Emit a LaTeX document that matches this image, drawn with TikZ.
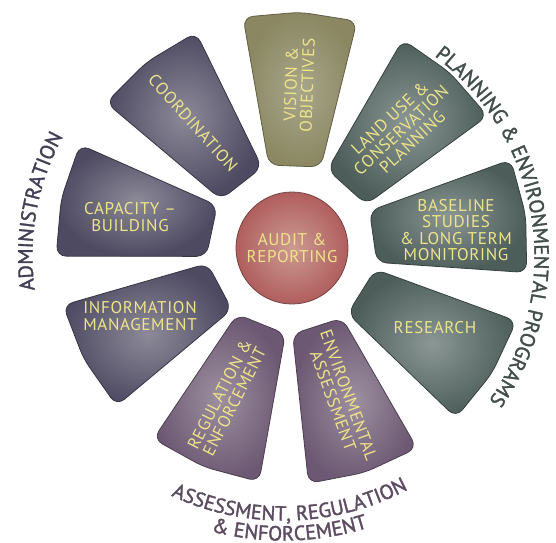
\documentclass[tikz,border=0pt]{standalone}
\usepackage{fontspec}
\setmainfont{PT Sans}
\newfontfamily\petalfont[LetterSpace=4]{PT Sans}
\newfontfamily\ringfont[FakeBold=1.6]{PT Sans}
\newcommand{\ringsize}{\ringfont\fontsize{20.5}{24}\selectfont}
\usetikzlibrary{decorations.text}

\definecolor{admcol}{HTML}{4D4A62}
\definecolor{admlt}{HTML}{8C8A98}
\definecolor{plncol}{HTML}{4C5D5A}
\definecolor{plnlt}{HTML}{8B9794}
\definecolor{asscol}{HTML}{6C5872}
\definecolor{asslt}{HTML}{9D90A0}
\definecolor{viscol}{HTML}{8A8762}
\definecolor{vislt}{HTML}{A9A78C}
\definecolor{audcol}{HTML}{B05E5E}
\definecolor{audlt}{HTML}{CB9B92}
\definecolor{txtyel}{HTML}{EEE48A}

\begin{document}
\begin{tikzpicture}[x=1pt,y=1pt,
	petal/.style={rounded corners=10pt, line width=0.8pt},
	lbl/.style={text=txtyel, font=\petalfont\fontsize{17}{16.5}\selectfont, align=center, inner sep=0pt},
	ring/.style={decorate, decoration={text along path, text align=center, text color=#1!85!black}}]
	
	\useasboundingbox (-292,248) rectangle (264,-294);
	
	% petals
	\foreach \ang/\pc in {88/vis, 48/pln, 8/pln, -32/pln, -72/ass, -112/ass, -152/adm, 168/adm, 128/adm}
	{
		\path[petal, rotate=\ang, draw=\pc col!70!black, inner color=\pc lt, outer color=\pc col]
		(82,-26) -- (229,-57) -- (236,0) -- (229,57) -- (82,26) -- cycle;
	}
	
	% centre
	\node[lbl, circle, minimum size=112pt, draw=audcol!70!black, line width=0.8pt,
	inner color=audlt, outer color=audcol] (audit) at (0,0) {AUDIT \&\\REPORTING};
	
	\node[lbl, rotate=88] (vision) at (7,163) {VISION \&\\OBJECTIVES};
	\node[lbl, rotate=43] (landuse) at (109,118) {LAND USE \&\\CONSERVATION\\PLANNING};
	\node[lbl] (baseline) at (164,18) {BASELINE\\STUDIES\\\& LONG TERM\\MONITORING};
	\node[lbl] (research) at (143,-80) {RESEARCH};
	\node[lbl, rotate=-70] (envassess) at (49,-150) {ENVIRONMENTAL\\ASSESSMENT};
	\node[lbl, rotate=63] (regulation) at (-65,-150) {REGULATION \&\\ENFORCEMENT};
	\node[lbl] (infomgmt) at (-152,-68) {INFORMATION\\MANAGEMENT};
	\node[lbl] (capacity) at (-162,31) {CAPACITY –\\BUILDING};
	\node[lbl, rotate=-48] (coordination) at (-99,125) {COORDINATION};
	
	% outer labels
	\begin{scope}[shift={(-8.6,-8.6)}]
		\path[ring=admcol, decoration={text={|\ringsize|ADMINISTRATION}}]
		(219.5:251) arc[start angle=219.5, end angle=119.5, radius=251];
		\path[ring=plncol, decoration={text={|\ringsize|PLANNING {\&} ENVIRONMENTAL PROGRAMS}}]
		(79:251) arc[start angle=79, end angle=-61, radius=251];
		\path[ring=asscol, decoration={text={|\ringsize|ASSESSMENT, REGULATION}}]
		(-133.5:264) arc[start angle=-133.5, end angle=-43.5, radius=264];
		\path[ring=asscol, decoration={text={|\ringsize|{\&} ENFORCEMENT}}]
		(-123.7:284) arc[start angle=-123.7, end angle=-53.7, radius=284];
	\end{scope}
\end{tikzpicture}
\end{document}
